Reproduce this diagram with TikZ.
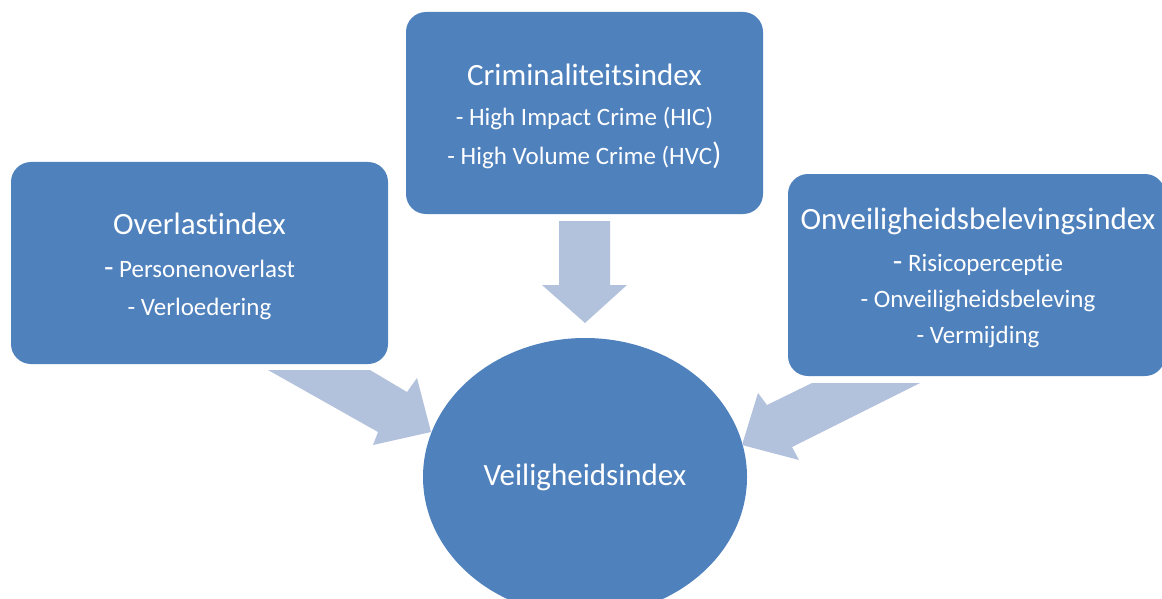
\documentclass[tikz,border=0pt]{standalone}
\usepackage{fontspec}
\setmainfont{Carlito}[Ligatures={NoCommon}]
\usepackage{xcolor}
\usetikzlibrary{shapes.geometric}
\definecolor{boxblue}{HTML}{4F81BD}
\definecolor{arrowblue}{HTML}{B3C2DC}

\begin{document}
\begin{tikzpicture}[x=1pt,y=-1pt]
    % `indexbox' is used for the three rounded boxes.
    % `boxtext' is used for the lines inside them.
    % `total' is used for the ellipse in the middle.
    % `blockarrow' is used for the wide pale arrows.
    \tikzstyle{indexbox} = [fill=boxblue,rounded corners=20pt,minimum width=377pt,minimum height=202pt]
    \tikzstyle{boxtext} = [text=white,align=center,font=\fontsize{25}{39}\selectfont]
    \tikzstyle{total} = [fill=boxblue,shape=ellipse,minimum width=324pt,minimum height=278pt,
        text=white,font=\fontsize{31}{36}\selectfont]
    \tikzstyle{blockarrow} = [fill=arrowblue,draw=none]
    \newcommand{\boxtitle}[1]{{\fontsize{31}{36}\selectfont #1}}
    %
    \useasboundingbox (0,0) rectangle (1162,599);
    \clip (0,0) rectangle (1162,599);
    % Boxes.
    \node[indexbox,minimum width=357pt] (crim) at (584.5,113) {};
    \node[indexbox] (overlast) at (199.5,263) {};
    \node[indexbox] (onveilig) at (976.5,275) {};
    % Texts in the boxes.
    \node[boxtext] (crimtext) at (584.5,116) {\boxtitle{Criminaliteitsindex}\\[1pt]
        - High Impact Crime (HIC)\\ - High Volume Crime (HVC{\fontsize{31}{36}\selectfont)}};
    \node[boxtext,font=\fontsize{25}{38}\selectfont] (overlasttext) at (199.5,266) {\boxtitle{Overlastindex}\\[5pt]
        {\fontsize{31}{36}\selectfont -} Personenoverlast\\ - Verloedering};
    \node[boxtext,font=\fontsize{25}{36}\selectfont] (onveiligtext) at (978,278) {\boxtitle{Onveiligheidsbelevingsindex}\\[6pt]
        {\fontsize{31}{36}\selectfont -} Risicoperceptie\\ - Onveiligheidsbeleving\\ - Vermijding};
    % Ellipse.
    \node[total] (veilig) at (585,477) {Veiligheidsindex};
    % Arrows.
    \fill[blockarrow] (559,221) -- (610,221) -- (610,285) -- (627,285) -- (585,323)
        -- (542,285) -- (559,285) -- cycle;
    \fill[blockarrow] (268,370) -- (370,370) -- (407,392) -- (417,378) -- (431,432)
        -- (373,445) -- (378,432) -- cycle;
    \fill[blockarrow] (920,383) -- (812,383) -- (767,405) -- (758,393) -- (742,445)
        -- (799,460) -- (792,447) -- cycle;
    %
\end{tikzpicture}
\end{document}
